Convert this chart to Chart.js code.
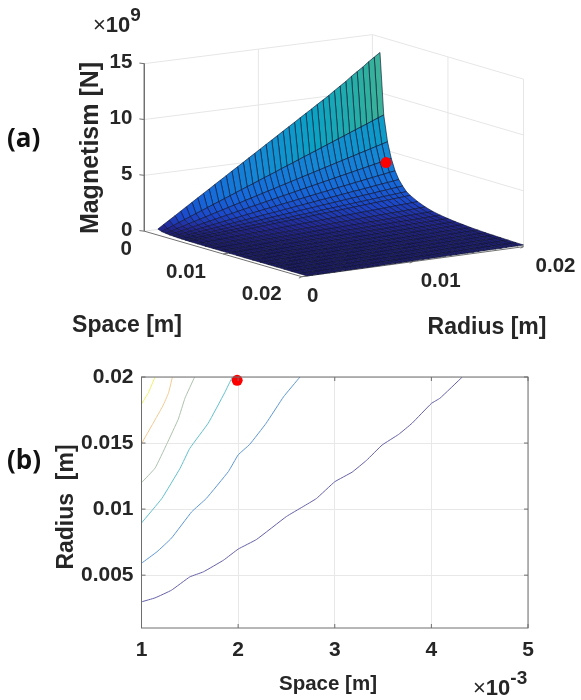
<!DOCTYPE html>
<html>
<head>
<meta charset="utf-8">
<title>Magnetism surface and contour</title>
<script src="https://cdn.jsdelivr.net/npm/chart.js@4"></script>
<style>
  body { margin: 0; background: #fff; }
  #page { position: relative; width: 581px; height: 700px; overflow: hidden; color: #262626; font-family: "Liberation Sans", Arial, sans-serif; }
  #page canvas { position: absolute; left: 0; }
  .tag { position: absolute; left: 7px; font: bold 26px "Open Sans", sans-serif; color: #111; }
  .exp { position: absolute; font-size: 22px; font-weight: bold; white-space: nowrap; }
  .exp i { font-style: normal; font-weight: normal; }
  .exp sup { font-size: 19px; line-height: 0; position: relative; top: -3px; vertical-align: super; }
</style>
</head>
<body>
<div id="page">
  <canvas id="surfaceChart" width="581" height="350" style="top:0"></canvas>
  <canvas id="contourChart" width="581" height="350" style="top:350px"></canvas>
  <div class="tag" style="top:119px">(a)</div>
  <div class="tag" style="top:441px">(b)</div>
  <div class="exp" style="left:93px;top:12px"><i>×</i>10<sup>9</sup></div>
  <div class="exp" style="left:473px;top:675px"><i>×</i>10<sup>-3</sup></div>
</div>
<script>
// surface (a): force in 1e9 N, one row per space value, one column per radius value
const radiusValues = [0.0005,0.001,0.0015,0.002,0.0025,0.003,0.0035,0.004,0.0045,0.005,0.0055,0.006,0.0065,0.007,0.0075,0.008,0.0085,0.009,0.0095,0.01,0.0105,0.011,0.0115,0.012,0.0125,0.013,0.0135,0.014,0.0145,0.015,0.0155,0.016,0.0165,0.017,0.0175,0.018,0.0185,0.019,0.0195,0.02];
const spaceValues = [0.001,0.0015,0.002,0.0025,0.003,0.0035,0.004,0.0045,0.005,0.006,0.007,0.008,0.009,0.01,0.011,0.012,0.013,0.014,0.015,0.016,0.017,0.018,0.019,0.02];
const forceRows = [
  [0.33,0.67,1,1.33,1.67,2,2.33,2.67,3,3.33,3.67,4,4.33,4.67,5,5.33,5.67,6,6.33,6.67,7,7.33,7.67,8,8.33,8.67,9,9.33,9.67,10,10.33,10.7,11.05,11.4,11.8,12.15,12.5,12.9,13.25,13.6],
  [0.2,0.41,0.61,0.81,1.01,1.22,1.42,1.62,1.82,2.03,2.23,2.43,2.63,2.84,3.04,3.24,3.44,3.65,3.85,4.05,4.25,4.46,4.66,4.86,5.06,5.27,5.47,5.67,5.87,6.08,6.28,6.48,6.68,6.89,7.09,7.29,7.49,7.7,7.9,8.1],
  [0.15,0.29,0.44,0.58,0.73,0.87,1.02,1.16,1.31,1.45,1.6,1.74,1.89,2.03,2.18,2.32,2.47,2.61,2.76,2.9,3.05,3.19,3.34,3.48,3.63,3.77,3.92,4.06,4.21,4.35,4.5,4.64,4.79,4.93,5.08,5.22,5.37,5.51,5.66,5.8],
  [0.11,0.22,0.33,0.44,0.55,0.66,0.77,0.88,0.99,1.1,1.21,1.32,1.43,1.54,1.65,1.76,1.87,1.98,2.09,2.2,2.31,2.42,2.53,2.64,2.75,2.86,2.97,3.08,3.19,3.3,3.41,3.52,3.63,3.74,3.85,3.96,4.07,4.18,4.29,4.4],
  [0.09,0.17,0.26,0.34,0.43,0.51,0.6,0.68,0.77,0.85,0.94,1.02,1.11,1.19,1.28,1.36,1.45,1.53,1.62,1.7,1.79,1.87,1.96,2.04,2.13,2.21,2.3,2.38,2.47,2.55,2.64,2.72,2.81,2.89,2.98,3.06,3.15,3.23,3.32,3.4],
  [0.07,0.14,0.2,0.27,0.34,0.41,0.48,0.54,0.61,0.68,0.75,0.82,0.88,0.95,1.02,1.09,1.16,1.22,1.29,1.36,1.43,1.5,1.56,1.63,1.7,1.77,1.84,1.9,1.97,2.04,2.11,2.18,2.24,2.31,2.38,2.45,2.52,2.58,2.65,2.72],
  [0.06,0.11,0.17,0.22,0.28,0.34,0.39,0.45,0.5,0.56,0.62,0.67,0.73,0.78,0.84,0.9,0.95,1.01,1.06,1.12,1.18,1.23,1.29,1.34,1.4,1.46,1.51,1.57,1.62,1.68,1.74,1.79,1.85,1.9,1.96,2.02,2.07,2.13,2.18,2.24],
  [0.05,0.09,0.14,0.18,0.23,0.28,0.32,0.37,0.41,0.46,0.51,0.55,0.6,0.64,0.69,0.74,0.78,0.83,0.87,0.92,0.97,1.01,1.06,1.1,1.15,1.2,1.24,1.29,1.33,1.38,1.43,1.47,1.52,1.56,1.61,1.66,1.7,1.75,1.79,1.84],
  [0.04,0.08,0.12,0.16,0.2,0.24,0.28,0.32,0.36,0.4,0.44,0.48,0.52,0.56,0.6,0.64,0.68,0.72,0.76,0.8,0.84,0.88,0.92,0.96,1,1.04,1.08,1.12,1.16,1.2,1.24,1.28,1.32,1.36,1.4,1.44,1.48,1.52,1.56,1.6],
  [0.03,0.06,0.09,0.12,0.16,0.19,0.22,0.25,0.28,0.31,0.34,0.37,0.4,0.43,0.47,0.5,0.53,0.56,0.59,0.62,0.65,0.68,0.71,0.74,0.78,0.81,0.84,0.87,0.9,0.93,0.96,0.99,1.02,1.05,1.09,1.12,1.15,1.18,1.21,1.24],
  [0.02,0.05,0.07,0.1,0.12,0.14,0.17,0.19,0.22,0.24,0.26,0.29,0.31,0.34,0.36,0.38,0.41,0.43,0.46,0.48,0.5,0.53,0.55,0.58,0.6,0.62,0.65,0.67,0.7,0.72,0.74,0.77,0.79,0.82,0.84,0.86,0.89,0.91,0.94,0.96],
  [0.02,0.04,0.06,0.08,0.1,0.11,0.13,0.15,0.17,0.19,0.21,0.23,0.25,0.27,0.29,0.3,0.32,0.34,0.36,0.38,0.4,0.42,0.44,0.46,0.48,0.49,0.51,0.53,0.55,0.57,0.59,0.61,0.63,0.65,0.67,0.68,0.7,0.72,0.74,0.76],
  [0.02,0.03,0.05,0.06,0.08,0.09,0.11,0.12,0.14,0.16,0.17,0.19,0.2,0.22,0.23,0.25,0.26,0.28,0.29,0.31,0.33,0.34,0.36,0.37,0.39,0.4,0.42,0.43,0.45,0.47,0.48,0.5,0.51,0.53,0.54,0.56,0.57,0.59,0.6,0.62],
  [0.01,0.03,0.04,0.05,0.07,0.08,0.09,0.1,0.12,0.13,0.14,0.16,0.17,0.18,0.2,0.21,0.22,0.23,0.25,0.26,0.27,0.29,0.3,0.31,0.33,0.34,0.35,0.36,0.38,0.39,0.4,0.42,0.43,0.44,0.46,0.47,0.48,0.49,0.51,0.52],
  [0.01,0.02,0.03,0.04,0.06,0.07,0.08,0.09,0.1,0.11,0.12,0.13,0.14,0.15,0.17,0.18,0.19,0.2,0.21,0.22,0.23,0.24,0.25,0.26,0.28,0.29,0.3,0.31,0.32,0.33,0.34,0.35,0.36,0.37,0.39,0.4,0.41,0.42,0.43,0.44],
  [0.01,0.02,0.03,0.04,0.05,0.06,0.07,0.08,0.09,0.1,0.1,0.11,0.12,0.13,0.14,0.15,0.16,0.17,0.18,0.19,0.2,0.21,0.22,0.23,0.24,0.25,0.26,0.27,0.28,0.29,0.29,0.3,0.31,0.32,0.33,0.34,0.35,0.36,0.37,0.38],
  [0.01,0.02,0.02,0.03,0.04,0.05,0.06,0.06,0.07,0.08,0.09,0.1,0.1,0.11,0.12,0.13,0.14,0.14,0.15,0.16,0.17,0.18,0.18,0.19,0.2,0.21,0.22,0.22,0.23,0.24,0.25,0.26,0.26,0.27,0.28,0.29,0.3,0.3,0.31,0.32],
  [0.01,0.01,0.02,0.03,0.04,0.04,0.05,0.06,0.06,0.07,0.08,0.08,0.09,0.1,0.11,0.11,0.12,0.13,0.13,0.14,0.15,0.15,0.16,0.17,0.18,0.18,0.19,0.2,0.2,0.21,0.22,0.22,0.23,0.24,0.25,0.25,0.26,0.27,0.27,0.28],
  [0.01,0.01,0.02,0.02,0.03,0.04,0.04,0.05,0.05,0.06,0.07,0.07,0.08,0.08,0.09,0.1,0.1,0.11,0.11,0.12,0.13,0.13,0.14,0.14,0.15,0.16,0.16,0.17,0.17,0.18,0.19,0.19,0.2,0.2,0.21,0.22,0.22,0.23,0.23,0.24],
  [0.01,0.01,0.02,0.02,0.03,0.03,0.04,0.04,0.05,0.06,0.06,0.07,0.07,0.08,0.08,0.09,0.09,0.1,0.1,0.11,0.12,0.12,0.13,0.13,0.14,0.14,0.15,0.15,0.16,0.17,0.17,0.18,0.18,0.19,0.19,0.2,0.2,0.21,0.21,0.22],
  [0.01,0.01,0.02,0.02,0.03,0.03,0.04,0.04,0.05,0.05,0.06,0.06,0.07,0.07,0.08,0.08,0.09,0.09,0.1,0.1,0.11,0.11,0.12,0.12,0.13,0.13,0.14,0.14,0.15,0.15,0.16,0.16,0.17,0.17,0.18,0.18,0.19,0.19,0.2,0.2],
  [0,0.01,0.01,0.02,0.02,0.03,0.03,0.04,0.04,0.05,0.05,0.05,0.06,0.06,0.07,0.07,0.08,0.08,0.09,0.09,0.09,0.1,0.1,0.11,0.11,0.12,0.12,0.13,0.13,0.14,0.14,0.14,0.15,0.15,0.16,0.16,0.17,0.17,0.18,0.18],
  [0,0.01,0.01,0.02,0.02,0.02,0.03,0.03,0.04,0.04,0.04,0.05,0.05,0.06,0.06,0.06,0.07,0.07,0.08,0.08,0.08,0.09,0.09,0.1,0.1,0.1,0.11,0.11,0.12,0.12,0.12,0.13,0.13,0.14,0.14,0.14,0.15,0.15,0.16,0.16],
  [0,0.01,0.01,0.01,0.02,0.02,0.03,0.03,0.03,0.04,0.04,0.04,0.05,0.05,0.06,0.06,0.06,0.07,0.07,0.07,0.08,0.08,0.09,0.09,0.09,0.1,0.1,0.1,0.11,0.11,0.11,0.12,0.12,0.13,0.13,0.13,0.14,0.14,0.14,0.15]
];
const surfaceMark = [0.0018, 0.02, 3.9];
const forceTicks = [0, 5, 10, 15];
const spaceTicks3d = [0, 0.01, 0.02];
const radiusTicks3d = [0, 0.01, 0.02];

// contours (b): [space, radius], one list per level
const contourLevels = [2, 4, 6, 8, 10, 12];
const contour2 = [[0.001,0.00298],[0.00114,0.00328],[0.00131,0.00386],[0.0015,0.00487],[0.00164,0.00525],[0.00185,0.00614],[0.002,0.00697],[0.00219,0.0077],[0.0025,0.00944],[0.00267,0.01018],[0.00281,0.0108],[0.003,0.01207],[0.00318,0.0128],[0.00333,0.0137],[0.00349,0.01485],[0.00366,0.01565],[0.0038,0.0165],[0.004,0.018],[0.00409,0.0184],[0.00432,0.02]];
const contour4 = [[0.001,0.0059],[0.00116,0.00677],[0.00131,0.0078],[0.00152,0.0098],[0.00167,0.0108],[0.0019,0.01285],[0.002,0.0141],[0.00212,0.0149],[0.00229,0.0165],[0.00247,0.0185],[0.00264,0.02]];
const contour6 = [[0.001,0.00895],[0.00121,0.0108],[0.0014,0.0131],[0.0015,0.0146],[0.00169,0.0165],[0.00186,0.0188],[0.00194,0.02]];
const contour8 = [[0.001,0.012],[0.00114,0.0131],[0.00126,0.0149],[0.00138,0.0168],[0.00145,0.0184],[0.00155,0.02]];
const contour10 = [[0.001,0.01495],[0.00112,0.0165],[0.00122,0.0178],[0.00128,0.0188],[0.00132,0.02]];
const contour12 = [[0.001,0.01795],[0.00107,0.0188],[0.00114,0.02]];
const contourMark = [0.00199, 0.01975];
const spaceTicks = [0.001, 0.002, 0.003, 0.004, 0.005];
const radiusTicks = [0.005, 0.01, 0.015, 0.02];

const contourColors = ['#6560a8', '#5e98d4', '#62c0cf', '#adc2ad', '#f2c990', '#eff06a'];
const fontFamily = '"Liberation Sans", Arial, sans-serif';
const tickFont = 'bold 20.5px ' + fontFamily;
const labelFont = 'bold 23px ' + fontFamily;
const textColor = '#262626';

// floor corners of the 3d box in view units, and height of 1e9 N
const cornerL = [141.5, 233], cornerF = [302, 280], cornerB = [374, 203], cornerR = [528, 249];
const zScale = 11.53;
const spanMax = 0.02;

function project(space, radius, force) {
  const u = space / spanMax, v = radius / spanMax;
  const a = (1 - u) * (1 - v), b = u * (1 - v), c = (1 - u) * v, d = u * v;
  return {
    x: cornerL[0] * a + cornerF[0] * b + cornerB[0] * c + cornerR[0] * d,
    y: cornerL[1] * a + cornerF[1] * b + cornerB[1] * c + cornerR[1] * d - force * zScale
  };
}

// colours by force, roughly what the picture shows (blurred parula)
const colorStops = [[0, [30,26,100]], [0.5, [36,40,150]], [1.2, [28,70,200]], [2.5, [22,105,218]], [5, [20,138,212]], [7.5, [10,162,196]], [10, [44,176,160]], [13.6, [122,188,124]]];
function forceColor(f) {
  let i = 0;
  while (i < colorStops.length - 2 && f > colorStops[i + 1][0]) i++;
  const s0 = colorStops[i], s1 = colorStops[i + 1];
  const t = Math.min(1, (f - s0[0]) / (s1[0] - s0[0]));
  const c = s0[1].map((v, k) => Math.round(v + (s1[1][k] - v) * t));
  return 'rgb(' + c.join(',') + ')';
}

function lineSet(points, color, width) {
  return { data: points, showLine: true, pointRadius: 0, borderColor: color, borderWidth: width, fill: false };
}

// draw order: walls, axes, quads from the back corner forward, then the dot
const drawList = [];
const gridColor = '#e6e6e6';
const axisColor = '#707070';
forceTicks.slice(1).forEach(f => {
  drawList.push(lineSet([project(0, 0, f), project(0, spanMax, f), project(spanMax, spanMax, f)], gridColor, 1));
});
[[0, 0], [0, 0.01], [0, spanMax], [0.01, spanMax], [spanMax, spanMax]].forEach(p => {
  drawList.push(lineSet([project(p[0], p[1], 0), project(p[0], p[1], 15)], gridColor, 1));
});
drawList.push(lineSet([project(0, 0, 0), project(0, spanMax, 0), project(spanMax, spanMax, 0)], gridColor, 1));

drawList.push(lineSet([project(0, 0, 15), project(0, 0, 0), project(spanMax, 0, 0), project(spanMax, spanMax, 0)], axisColor, 1));
forceTicks.forEach(f => {
  const p = project(0, 0, f);
  drawList.push(lineSet([p, { x: p.x - 5, y: p.y - 0.6 }], axisColor, 1));
});
spaceTicks3d.slice(1).forEach(s => {
  const p = project(s, 0, 0);
  drawList.push(lineSet([p, { x: p.x + 5, y: p.y - 0.7 }], axisColor, 1));
});
radiusTicks3d.forEach(r => {
  const p = project(spanMax, r, 0);
  drawList.push(lineSet([p, { x: p.x - 3, y: p.y + 1.5 }], axisColor, 1));
});

for (let i = 0; i < spaceValues.length - 1; i++) {
  for (let j = radiusValues.length - 2; j >= 0; j--) {
    const f = (forceRows[i][j] + forceRows[i][j + 1] + forceRows[i + 1][j] + forceRows[i + 1][j + 1]) / 4;
    const p0 = project(spaceValues[i], radiusValues[j], forceRows[i][j]);
    const p1 = project(spaceValues[i], radiusValues[j + 1], forceRows[i][j + 1]);
    const p2 = project(spaceValues[i + 1], radiusValues[j + 1], forceRows[i + 1][j + 1]);
    const p3 = project(spaceValues[i + 1], radiusValues[j], forceRows[i + 1][j]);
    const quad = lineSet([p0, p1, p2, p3, p0], 'rgba(14,20,50,0.8)', 0.8);
    quad.fill = 'shape';
    quad.backgroundColor = forceColor(f);
    drawList.push(quad);
  }
}
drawList.push({ data: [project(surfaceMark[0], surfaceMark[1], surfaceMark[2])], pointRadius: 5.5, pointBackgroundColor: '#ff0000', pointBorderWidth: 0, showLine: false });

// first dataset ends up on top in chart.js
drawList.reverse();

const surfaceText = {
  id: 'surfaceText',
  afterDraw(chart) {
    const ctx = chart.ctx, sx = chart.scales.x, sy = chart.scales.y;
    ctx.save();
    ctx.fillStyle = textColor;
    ctx.font = tickFont;
    ctx.textBaseline = 'middle';
    ctx.textAlign = 'right';
    forceTicks.forEach(f => {
      const p = project(0, 0, f);
      ctx.fillText(String(f), sx.getPixelForValue(p.x) - 12, sy.getPixelForValue(p.y) - 1);
    });
    ctx.textAlign = 'center';
    const spaceOffs = [-18, -37, -40], radiusOffs = [11, 28, 32];
    spaceTicks3d.forEach((s, i) => {
      const p = project(s, 0, 0);
      ctx.fillText(String(s), sx.getPixelForValue(p.x) + spaceOffs[i], sy.getPixelForValue(p.y) + 18);
    });
    radiusTicks3d.forEach((r, i) => {
      const p = project(spanMax, r, 0);
      ctx.fillText(String(r), sx.getPixelForValue(p.x) + radiusOffs[i], sy.getPixelForValue(p.y) + 20);
    });
    ctx.font = labelFont;
    ctx.fillText('Space [m]', 127, 326);
    ctx.fillText('Radius [m]', 487, 328);
    ctx.font = 'bold 25px ' + fontFamily;
    ctx.translate(91, 148);
    ctx.rotate(-Math.PI / 2);
    ctx.fillText('Magnetism [N]', 0, 0);
    ctx.restore();
  }
};

new Chart(document.getElementById('surfaceChart'), {
  type: 'scatter',
  data: { datasets: drawList },
  options: {
    responsive: false,
    animation: false,
    layout: { padding: 0 },
    scales: {
      x: { display: false, min: 0, max: 581 },
      y: { display: false, min: 0, max: 350, reverse: true }
    },
    plugins: { legend: { display: false }, tooltip: { enabled: false } }
  },
  plugins: [surfaceText]
});

const boxTicks = {
  id: 'boxTicks',
  afterDraw(chart) {
    const ctx = chart.ctx, a = chart.chartArea;
    ctx.save();
    ctx.strokeStyle = '#6e6e6e';
    ctx.lineWidth = 1;
    ctx.strokeRect(a.left, a.top, a.right - a.left, a.bottom - a.top);
    ctx.beginPath();
    spaceTicks.forEach(v => {
      const x = chart.scales.x.getPixelForValue(v);
      ctx.moveTo(x, a.bottom); ctx.lineTo(x, a.bottom - 4);
      ctx.moveTo(x, a.top); ctx.lineTo(x, a.top + 4);
    });
    radiusTicks.forEach(v => {
      const y = chart.scales.y.getPixelForValue(v);
      ctx.moveTo(a.left, y); ctx.lineTo(a.left + 4, y);
      ctx.moveTo(a.right, y); ctx.lineTo(a.right - 4, y);
    });
    ctx.stroke();
    // axis titles sit off centre in the picture
    ctx.fillStyle = textColor;
    ctx.textAlign = 'center';
    ctx.textBaseline = 'middle';
    ctx.font = 'bold 20.5px ' + fontFamily;
    ctx.fillText('Space [m]', 328, 334);
    ctx.font = 'bold 23px ' + fontFamily;
    ctx.translate(67, 157);
    ctx.rotate(-Math.PI / 2);
    ctx.fillText('Radius  [m]', 0, 0);
    ctx.restore();
  }
};

const contourLists = [contour2, contour4, contour6, contour8, contour10, contour12];
const contourSets = contourLists.map((list, i) => ({
  label: contourLevels[i] + 'e9',
  data: list.map(p => ({ x: p[0], y: p[1] })),
  showLine: true,
  pointRadius: 0,
  borderColor: contourColors[i],
  borderWidth: 1,
  tension: 0.1
}));
contourSets.unshift({ data: [{ x: contourMark[0], y: contourMark[1] }], pointRadius: 5.5, pointBackgroundColor: '#ff0000', pointBorderWidth: 0, clip: false });

new Chart(document.getElementById('contourChart'), {
  type: 'scatter',
  data: { datasets: contourSets },
  options: {
    responsive: false,
    animation: false,
    layout: { padding: { top: 27, right: 53 } },
    scales: {
      x: {
        min: 0.001, max: 0.005,
        afterBuildTicks: s => { s.ticks = spaceTicks.map(v => ({ value: v })); },
        afterFit: s => { s.height = 72; },
        grid: { color: '#e8e8e8', drawTicks: false },
        border: { display: false },
        ticks: { color: textColor, font: { family: fontFamily, size: 21, weight: 'bold' }, padding: 10, maxRotation: 0, callback: v => String(Math.round(v * 1000)) }
      },
      y: {
        min: 0.001, max: 0.02,
        afterBuildTicks: s => { s.ticks = radiusTicks.map(v => ({ value: v })); },
        afterFit: s => { s.width = 141.5; },
        grid: { color: '#e8e8e8', drawTicks: false },
        border: { display: false },
        ticks: { color: textColor, font: { family: fontFamily, size: 21, weight: 'bold' }, padding: 8, callback: v => String(v) }
      }
    },
    plugins: { legend: { display: false }, tooltip: { enabled: false } }
  },
  plugins: [boxTicks]
});
</script>
</body>
</html>
